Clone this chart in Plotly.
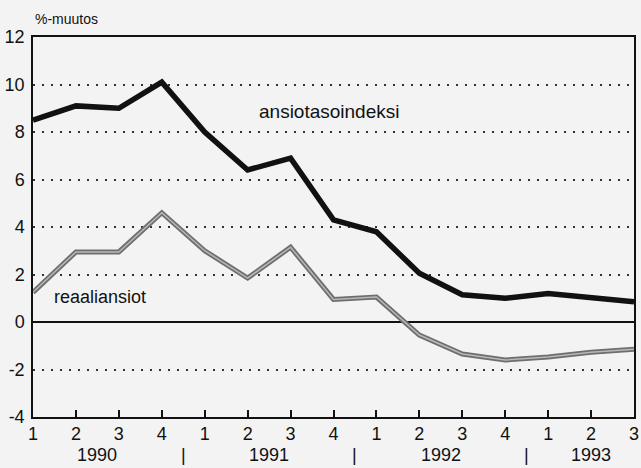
import plotly.graph_objects as go

quarters = ["1", "2", "3", "4", "1", "2", "3", "4", "1", "2", "3", "4", "1", "2", "3"]
years = ["1990", "1991", "1992", "1993"]
year_pos = [1.5, 5.5, 9.5, 13]
sep_pos = [3.5, 7.5, 11.5]
ansiotasoindeksi = [8.5, 9.1, 9.0, 10.1, 8.0, 6.4, 6.9, 4.3, 3.8, 2.05, 1.15, 1.0, 1.2, 1.05, 0.85]
reaaliansiot = [1.25, 2.95, 2.95, 4.6, 3.0, 1.85, 3.15, 0.95, 1.05, -0.55, -1.35, -1.6, -1.47, -1.27, -1.15]
yticks = [-4, -2, 0, 2, 4, 6, 8, 10, 12]

x = list(range(len(quarters)))
font = "Liberation Sans, Arial, sans-serif"

fig = go.Figure()
fig.add_trace(go.Scatter(x=x, y=reaaliansiot, mode="lines",
                         line=dict(color="#6e6e6e", width=5), hoverinfo="skip"))
fig.add_trace(go.Scatter(x=x, y=reaaliansiot, mode="lines",
                         line=dict(color="#b8b8b8", width=1.5), hoverinfo="skip"))
fig.add_trace(go.Scatter(x=x, y=ansiotasoindeksi, mode="lines",
                         line=dict(color="#111111", width=5.5), hoverinfo="skip"))

fig.update_layout(
    width=641, height=468,
    margin=dict(l=33, r=7, t=37, b=51),
    paper_bgcolor="#f3f3f3", plot_bgcolor="#f3f3f3",
    showlegend=False,
    font=dict(family=font, size=17, color="#111111"),
)
fig.update_xaxes(
    range=[0, 14], tickvals=x, ticktext=quarters, automargin=False,
    ticks="inside", ticklen=7, tickwidth=1.5, tickcolor="#111111",
    showgrid=False, showline=True, mirror=True, linecolor="#111111", linewidth=1.5,
    zeroline=False, tickfont=dict(size=18),
)
fig.update_yaxes(
    range=[-4, 12], tickvals=yticks, ticktext=[str(v) for v in yticks], automargin=False,
    ticks="", showgrid=True, gridcolor="#333333", gridwidth=2, griddash="2px,7px",
    zeroline=True, zerolinecolor="#111111", zerolinewidth=1.5,
    showline=True, mirror=True, linecolor="#111111", linewidth=1.5,
    tickfont=dict(size=18), ticklabelstandoff=3,
)

for yr, p in zip(years, year_pos):
    fig.add_annotation(x=p, y=-0.1, xref="x", yref="paper", text=yr,
                       showarrow=False, font=dict(size=18), yanchor="middle")
for p in sep_pos:
    fig.add_annotation(x=p, y=-0.1, xref="x", yref="paper", text="|",
                       showarrow=False, font=dict(size=18), yanchor="middle")

fig.add_annotation(x=0, y=1.0, xref="x", yref="paper", text="%-muutos",
                   showarrow=False, font=dict(size=14), xanchor="left", yanchor="bottom",
                   yshift=8)
fig.add_annotation(x=6.9, y=8.85, xref="x", yref="y", text="ansiotasoindeksi",
                   showarrow=False, font=dict(size=19), xanchor="center")
fig.add_annotation(x=0.45, y=1.05, xref="x", yref="y", text="reaaliansiot",
                   showarrow=False, font=dict(size=18), xanchor="left")

fig.write_html("out.html", config={"displayModeBar": False},
               post_script="document.body.style.margin='0';document.body.style.background='#f3f3f3';")
